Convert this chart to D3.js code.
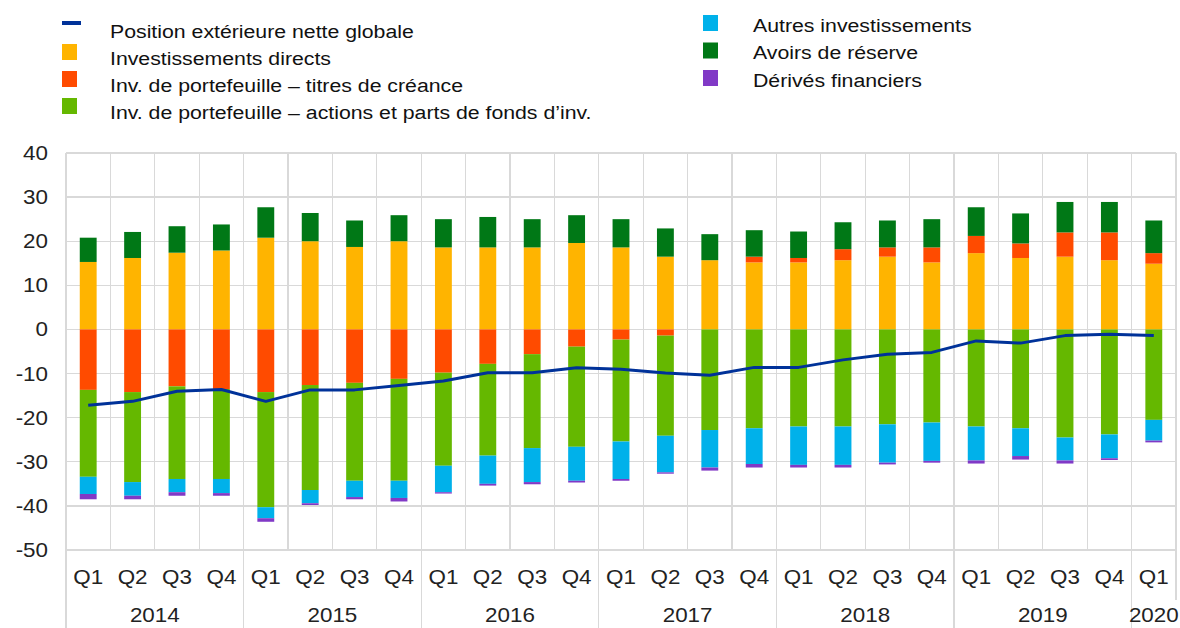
<!DOCTYPE html>
<html lang="fr">
<head>
<meta charset="utf-8">
<title>Position extérieure nette globale</title>
<script src="https://d3js.org/d3.v7.min.js"></script>
<style>
body { margin: 0; background: #fff; }
svg { display: block; font-family: "Liberation Sans", Arial, sans-serif; }
.grid line { stroke: #d9d9d9; stroke-width: 1.3px; shape-rendering: crispEdges; }
.lbl { fill: #222; font-size: 20px; }
.legend text { fill: #111; font-size: 19px; }
.niip { fill: none; stroke: #003299; stroke-width: 3px; stroke-linejoin: round; }
</style>
</head>
<body>
<svg width="1180" height="628"></svg>
<script>

// quarters 2014Q1 .. 2020Q1, % du PIB
var quarters = ["Q1","Q2","Q3","Q4","Q1","Q2","Q3","Q4","Q1","Q2","Q3","Q4","Q1","Q2","Q3","Q4",
                "Q1","Q2","Q3","Q4","Q1","Q2","Q3","Q4","Q1"];
var years = ["2014","2015","2016","2017","2018","2019","2020"];
var yTicks = [40, 30, 20, 10, 0, -10, -20, -30, -40, -50];

var directInv   = [15.3, 16.2, 17.4, 17.9, 20.8, 20.0, 18.7, 20.0, 18.6, 18.6, 18.6, 19.6, 18.6, 16.5, 15.7, 15.2, 15.2, 15.7, 16.5, 15.2, 17.3, 16.2, 16.5, 15.7, 14.9];
var portDebt    = [-13.7, -14.2, -12.9, -13.5, -14.2, -12.6, -12.1, -11.2, -9.8, -7.8, -5.6, -3.9, -2.3, -1.4, 0.0, 1.3, 1.0, 2.5, 2.1, 3.4, 3.9, 3.3, 5.5, 6.3, 2.4];
var portEquity  = [-19.7, -20.4, -21.0, -20.4, -26.1, -23.8, -22.2, -23.1, -21.1, -20.8, -21.3, -22.7, -23.1, -22.7, -22.8, -22.4, -22.0, -22.0, -21.5, -21.1, -22.0, -22.4, -24.5, -23.8, -20.5];
var otherInv    = [-3.9, -3.1, -3.0, -3.2, -2.5, -3.0, -3.7, -3.9, -6.0, -6.4, -7.7, -7.7, -8.5, -8.3, -8.5, -8.1, -8.7, -8.7, -8.7, -8.7, -7.7, -6.3, -5.2, -5.4, -4.7];
var reserves    = [5.5, 5.9, 6.0, 5.9, 6.9, 6.4, 6.0, 5.9, 6.4, 6.9, 6.4, 6.3, 6.4, 6.4, 5.9, 6.0, 6.0, 6.1, 6.1, 6.4, 6.5, 6.8, 6.9, 6.9, 7.4];
var derivatives = [-1.2, -0.8, -0.8, -0.6, -0.8, -0.4, -0.5, -0.8, -0.3, -0.4, -0.5, -0.4, -0.4, -0.3, -0.7, -0.8, -0.6, -0.6, -0.4, -0.4, -0.7, -0.8, -0.7, -0.4, -0.4];
var niip        = [-17.2, -16.3, -14.0, -13.6, -16.3, -13.7, -13.7, -12.7, -11.7, -9.8, -9.8, -8.7, -9.0, -9.9, -10.4, -8.6, -8.6, -6.9, -5.6, -5.2, -2.6, -3.1, -1.4, -1.1, -1.4];

var seriesKeys = ["di", "debt", "equity", "other", "reserves", "deriv"];
var seriesNames = {
  di: "Investissements directs",
  debt: "Inv. de portefeuille \u2013 titres de créance",
  equity: "Inv. de portefeuille \u2013 actions et parts de fonds d\u2019inv.",
  other: "Autres investissements",
  reserves: "Avoirs de réserve",
  deriv: "Dérivés financiers"
};
var colors = {
  di: "#ffb400", debt: "#ff4b00", equity: "#65b800",
  other: "#00b1ea", reserves: "#007816", deriv: "#8139c6"
};

var rows = quarters.map(function(q, i) {
  return {i: i, di: directInv[i], debt: portDebt[i], equity: portEquity[i],
          other: otherInv[i], reserves: reserves[i], deriv: derivatives[i]};
});

var svg = d3.select("svg"),
    plotLeft = 66, plotRight = 1176, plotTop = 153, plotBottom = 550,
    sx = 1.12; // the reference text is a bit wide

var x = d3.scaleBand()
    .domain(d3.range(quarters.length))
    .range([plotLeft, plotRight])
    .paddingInner(0.62)
    .paddingOuter(0.31);

var y = d3.scaleLinear().domain([-50, 40]).range([plotBottom, plotTop]);

var step = x.step();
function edge(i) { return plotLeft + i * step; }

function label(g, px, py, str, anchor) {
  return g.append("text")
      .attr("class", "lbl")
      .attr("transform", "translate(" + px + "," + py + ") scale(" + sx + ",1)")
      .attr("text-anchor", anchor || "middle")
      .attr("dy", "0.35em")
      .text(str);
}

// grid
var grid = svg.append("g").attr("class", "grid");

grid.selectAll(".h")
    .data(yTicks)
  .enter().append("line")
    .attr("class", "h")
    .attr("x1", plotLeft).attr("x2", plotRight)
    .attr("y1", function(d) { return y(d); })
    .attr("y2", function(d) { return y(d); });

grid.selectAll(".v")
    .data(d3.range(quarters.length + 1))
  .enter().append("line")
    .attr("class", "v")
    .attr("x1", function(d) { return edge(d); })
    .attr("x2", function(d) { return edge(d); })
    .attr("y1", plotTop)
    .attr("y2", function(d) {
      if (d % 4 === 0) return 628;
      if (d === quarters.length) return 600;
      return plotBottom;
    });

// stacked bars
var stack = d3.stack().keys(seriesKeys).offset(d3.stackOffsetDiverging);
var layers = stack(rows);

svg.append("g").selectAll("g")
    .data(layers)
  .enter().append("g")
    .attr("fill", function(d) { return colors[d.key]; })
  .selectAll("rect")
    .data(function(d) { return d; })
  .enter().append("rect")
    .attr("x", function(d) { return x(d.data.i); })
    .attr("width", x.bandwidth())
    .attr("y", function(d) { return y(Math.max(d[0], d[1])); })
    .attr("height", function(d) { return Math.abs(y(d[0]) - y(d[1])); });

// net position line
var line = d3.line()
    .x(function(d, i) { return x(i) + x.bandwidth() / 2; })
    .y(function(d) { return y(d); });

svg.append("path")
    .datum(niip)
    .attr("class", "niip")
    .attr("d", line);

// axis labels
var labels = svg.append("g");
yTicks.forEach(function(t) { label(labels, 48, y(t), t, "end"); });
quarters.forEach(function(q, i) { label(labels, x(i) + x.bandwidth() / 2, 577, q); });
years.forEach(function(yr, k) {
  var a = edge(k * 4), b = Math.min(edge(k * 4 + 4), plotRight);
  label(labels, (a + b) / 2, 615, yr);
});

// legend
var legend = svg.append("g").attr("class", "legend");

function legendText(px, py, str) {
  legend.append("text")
      .attr("transform", "translate(" + px + "," + py + ") scale(" + sx + ",1)")
      .attr("dy", "0.35em")
      .text(str);
}

legend.append("rect")
    .attr("x", 62).attr("y", 21).attr("width", 19).attr("height", 4)
    .attr("fill", "#003299");
legendText(110, 31, "Position extérieure nette globale");

["di", "debt", "equity"].forEach(function(k, i) {
  var ry = 31 + 27 * (i + 1);
  legend.append("rect")
      .attr("x", 62).attr("y", ry - 14).attr("width", 15).attr("height", 16)
      .attr("fill", colors[k]);
  legendText(110, ry, seriesNames[k]);
});

["other", "reserves", "deriv"].forEach(function(k, i) {
  var ry = 25 + 27.5 * i;
  legend.append("rect")
      .attr("x", 703).attr("y", ry - 10).attr("width", 15).attr("height", 16)
      .attr("fill", colors[k]);
  legendText(753, ry, seriesNames[k]);
});

</script>
</body>
</html>
